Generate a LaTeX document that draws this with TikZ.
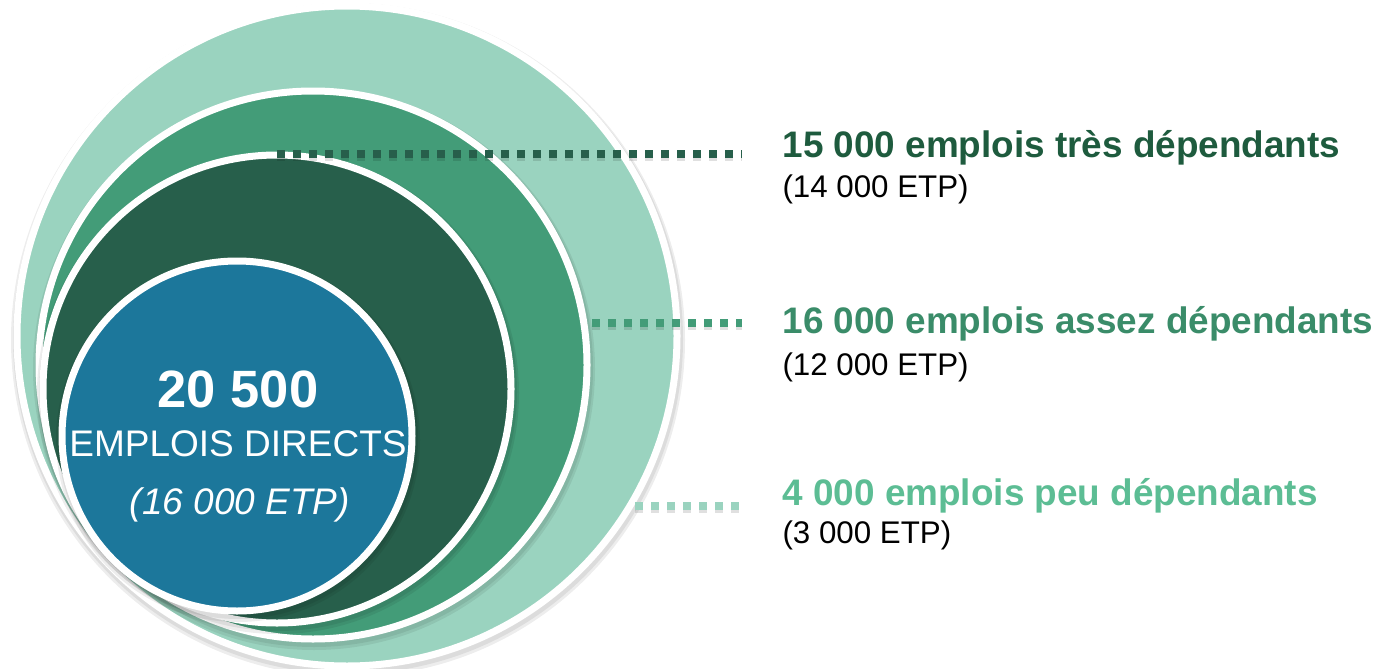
\documentclass[tikz,border=0pt]{standalone}
\usepackage{fontspec}
\setmainfont{Liberation Sans}
\usepackage{xcolor}
\usepackage{tikz}
\definecolor{pale}{HTML}{9AD3BF}
\definecolor{mid}{HTML}{439C78}
\definecolor{deep}{HTML}{275F4B}
\definecolor{blue}{HTML}{1C779B}
\definecolor{headdeep}{HTML}{1E5B3E}
\definecolor{headmid}{HTML}{3A8C69}
\definecolor{headpale}{HTML}{5CBD94}
\tikzset{
  ring/.style={draw=white, line width=7pt},
  shade/.style={fill=black, opacity=0.07},
  dots/.style={line width=7.5pt, dash pattern=on 8pt off 8pt},
  dotshade/.style={dots, draw=black, opacity=0.12},
  head/.style={anchor=base west, font=\bfseries\fontsize{36.9}{42}\selectfont},
  sub/.style={anchor=base west, text=black, font=\fontsize{31.3}{36}\selectfont},
  big/.style={anchor=base, text=white, font=\bfseries\fontsize{52.5}{58}\selectfont},
  mlab/.style={anchor=base, text=white, font=\fontsize{37}{42}\selectfont},
}

\begin{document}
\begin{tikzpicture}[x=1pt,y=-1pt]
  \useasboundingbox (0,0) rectangle (1381,669);
  % rings, outer first
  \foreach \cx/\cy/\r/\col in {347/336/330/pale, 313/365/274/mid, 277/389/234/deep, 237/436/175/blue}{
    \fill[shade] (\cx+1,\cy+4) circle[radius=\r+7];
    \fill[shade] (\cx+1,\cy+3) circle[radius=\r+5];
    \filldraw[ring, fill=\col] (\cx,\cy) circle[radius=\r];
  }
  \node[big]  (num)  at (238,407) {20 500};
  \node[mlab] (dir)  at (238,456) {EMPLOIS DIRECTS};
  \node[mlab] (etp)  at (240,514) {\itshape (16 000 ETP)};
  % leader dots
  \coordinate (s1) at (277,154);
  \coordinate (s2) at (592,323);
  \coordinate (s3) at (635,506);
  \coordinate (e1) at (742,154);
  \coordinate (e2) at (742,323);
  \coordinate (e3) at (740,506);
  \foreach \a/\b/\col in {s1/e1/deep, s2/e2/mid, s3/e3/pale}{
    \draw[dotshade] ([yshift=-3pt]\a) -- ([yshift=-3pt]\b);
    \draw[dots, draw=\col] (\a) -- (\b);
  }
  % labels
  \node[head, text=headdeep] (t1) at (779,157) {15 000 emplois très dépendants};
  \node[sub]  (u1) at (779,197) {(14 000 ETP)};
  \node[head, text=headmid]  (t2) at (779,333) {16 000 emplois assez dépendants};
  \node[sub]  (u2) at (779,375) {(12 000 ETP)};
  \node[head, text=headpale] (t3) at (779,505) {4 000 emplois peu dépendants};
  \node[sub]  (u3) at (779,543) {(3 000 ETP)};
\end{tikzpicture}
\end{document}
